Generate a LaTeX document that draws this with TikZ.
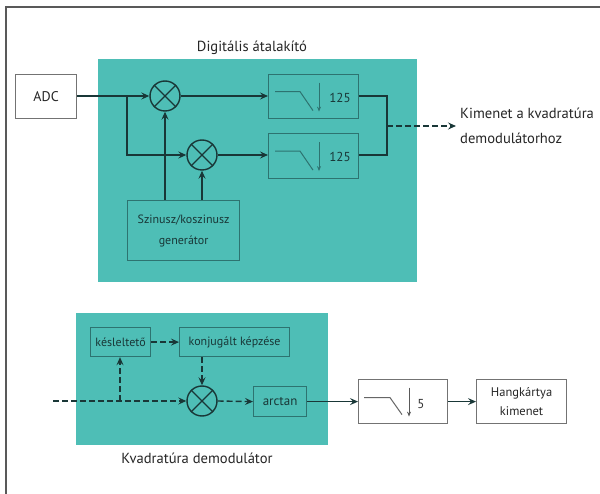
\documentclass[tikz,border=0pt]{standalone}
\usepackage{fontspec}
\setmainfont{PT Sans}
\usetikzlibrary{arrows.meta}
\definecolor{teal1}{RGB}{78,190,182}
\definecolor{ink}{RGB}{25,55,55}
\definecolor{boxline}{RGB}{45,115,112}
\tikzset{
 x=1pt,y=-1pt,
 panel/.style={fill=teal1,draw=none},
 tbox/.style={draw=boxline,line width=1.2pt,anchor=north west,inner sep=0pt,align=center,font=\fontsize{12}{21}\selectfont,text=ink},
 wbox/.style={draw=black!55,line width=1.2pt,anchor=north west,fill=white,inner sep=0pt,align=center,font=\fontsize{12.5}{19}\selectfont,text=black!85},
 mix/.style={circle,draw=ink,line width=1.4pt,minimum size=30pt,inner sep=0pt},
 sig/.style={draw=ink,line width=1.4pt,-{Stealth[length=8pt,width=7pt,inset=3pt]}},
 plain/.style={draw=ink,line width=1.4pt},
 dsig/.style={sig,dash pattern=on 6pt off 3pt},
 caption/.style={font=\fontsize{14.6}{17}\selectfont,text=black!85,inner sep=0pt},
 thin1/.style={draw=boxline,line width=1pt},
 tip1/.style={draw=boxline,line width=1pt,-{Stealth[length=5pt,width=4pt]}},
 num/.style={font=\fontsize{13}{15}\selectfont,inner sep=0pt}
}
\begin{document}
\begin{tikzpicture}[line cap=butt]
\useasboundingbox (0,0) rectangle (600,494);
\fill[white] (0,0) rectangle (600,494);
\draw[black!65,line width=1.6pt] (6,494) -- (6,7) -- (600,7);
\fill[panel] (98,59) rectangle (417,282);
\fill[panel] (76,313) rectangle (328,445);
\node[caption] (t1) at (252,48) {Digitális átalakító};
\node[caption] (t2) at (197,458) {Kvadratúra demodulátor};
\node[wbox,minimum width=61pt,minimum height=44pt,font=\fontsize{14}{16}\selectfont] (adc) at (15,74) {ADC};
\node[mix] (m1) at (165,96) {};
\node[mix] (m2) at (202,155) {};
\node[mix] (m3) at (202,401) {};
\foreach \m in {m1,m2,m3}{
 \draw[ink,line width=1.2pt] (\m.north west)--(\m.south east) (\m.north east)--(\m.south west);}
\node[tbox,minimum width=90pt,minimum height=44pt] (f1) at (268,74) {};
\node[tbox,minimum width=90pt,minimum height=45pt] (f2) at (268,133) {};
\node[tbox,minimum width=112pt,minimum height=60pt] (gen) at (127,200) {Szinusz/koszinusz\\generátor};
\node[tbox,minimum width=60pt,minimum height=29pt] (kes) at (90,327) {késleltető};
\node[tbox,minimum width=110pt,minimum height=29pt] (kon) at (179,327) {konjugált képzése};
\node[tbox,minimum width=53pt,minimum height=30pt,font=\fontsize{13}{15}\selectfont] (arc) at (253,386) {arctan};
\node[wbox,minimum width=89pt,minimum height=44pt] (f3) at (358,379) {};
\node[wbox,minimum width=90pt,minimum height=44pt] (hang) at (476,379) {Hangkártya\\kimenet};
\node[caption,anchor=west,align=left,font=\fontsize{14.6}{25}\selectfont] (out) at (460,126) {Kimenet a kvadratúra\\demodulátorhoz};
% filter glyphs
\foreach \f/\n in {f1/125,f2/125}{
 \draw[thin1] ([shift={(7,-5)}]\f.west |- \f.center) -- ++(25,0) -- ++(13,19);
 \draw[tip1] ([shift={(51,-14)}]\f.west |- \f.center) -- ++(0,29);
 \node[num,text=ink] at ([shift={(72,1)}]\f.west |- \f.center) {\n};
}
\draw[black!60,line width=1pt] ([shift={(6,-4)}]f3.west |- f3.center) -- ++(26,0) -- ++(12,17);
\draw[black!65,line width=1pt,-{Stealth[length=5pt,width=4pt]}] ([shift={(51,-14)}]f3.west |- f3.center) -- ++(0,29);
\node[num,text=black!80] at ([shift={(63,2)}]f3.west |- f3.center) {5};
% connectors
\coordinate (br1) at (127,96);
\coordinate (jn) at (387,126);
\coordinate (outtip) at (456,126);
\coordinate (in3) at (53,401);
\coordinate (br3) at (120,401);
\draw[sig] (adc.east |- m1) -- (m1.west);
\draw[sig] (br1) |- (m2.west);
\draw[sig] (m1.east) -- (f1.west |- m1);
\draw[sig] (m2.east) -- (f2.west |- m2);
\draw[sig] (m1 |- gen.north) -- (m1.south);
\draw[sig] (m2 |- gen.north) -- (m2.south);
\draw[plain] (f1.east |- m1) -| (jn) |- (f2.east |- m2);
\draw[dsig] (jn) -- (outtip);
\draw[dsig] (in3) -- (m3.west);
\draw[dsig] (br3) -- (br3 |- kes.south);
\draw[dsig] (kes.east) -- (kon.west);
\draw[dsig] (m3 |- kon.south) -- (m3.north);
\draw[dsig] (m3.east) -- (arc.west);
\draw[sig] (arc.east) -- (f3.west |- arc);
\draw[sig] (f3.east |- arc) -- (hang.west |- arc);
\end{tikzpicture}
\end{document}
